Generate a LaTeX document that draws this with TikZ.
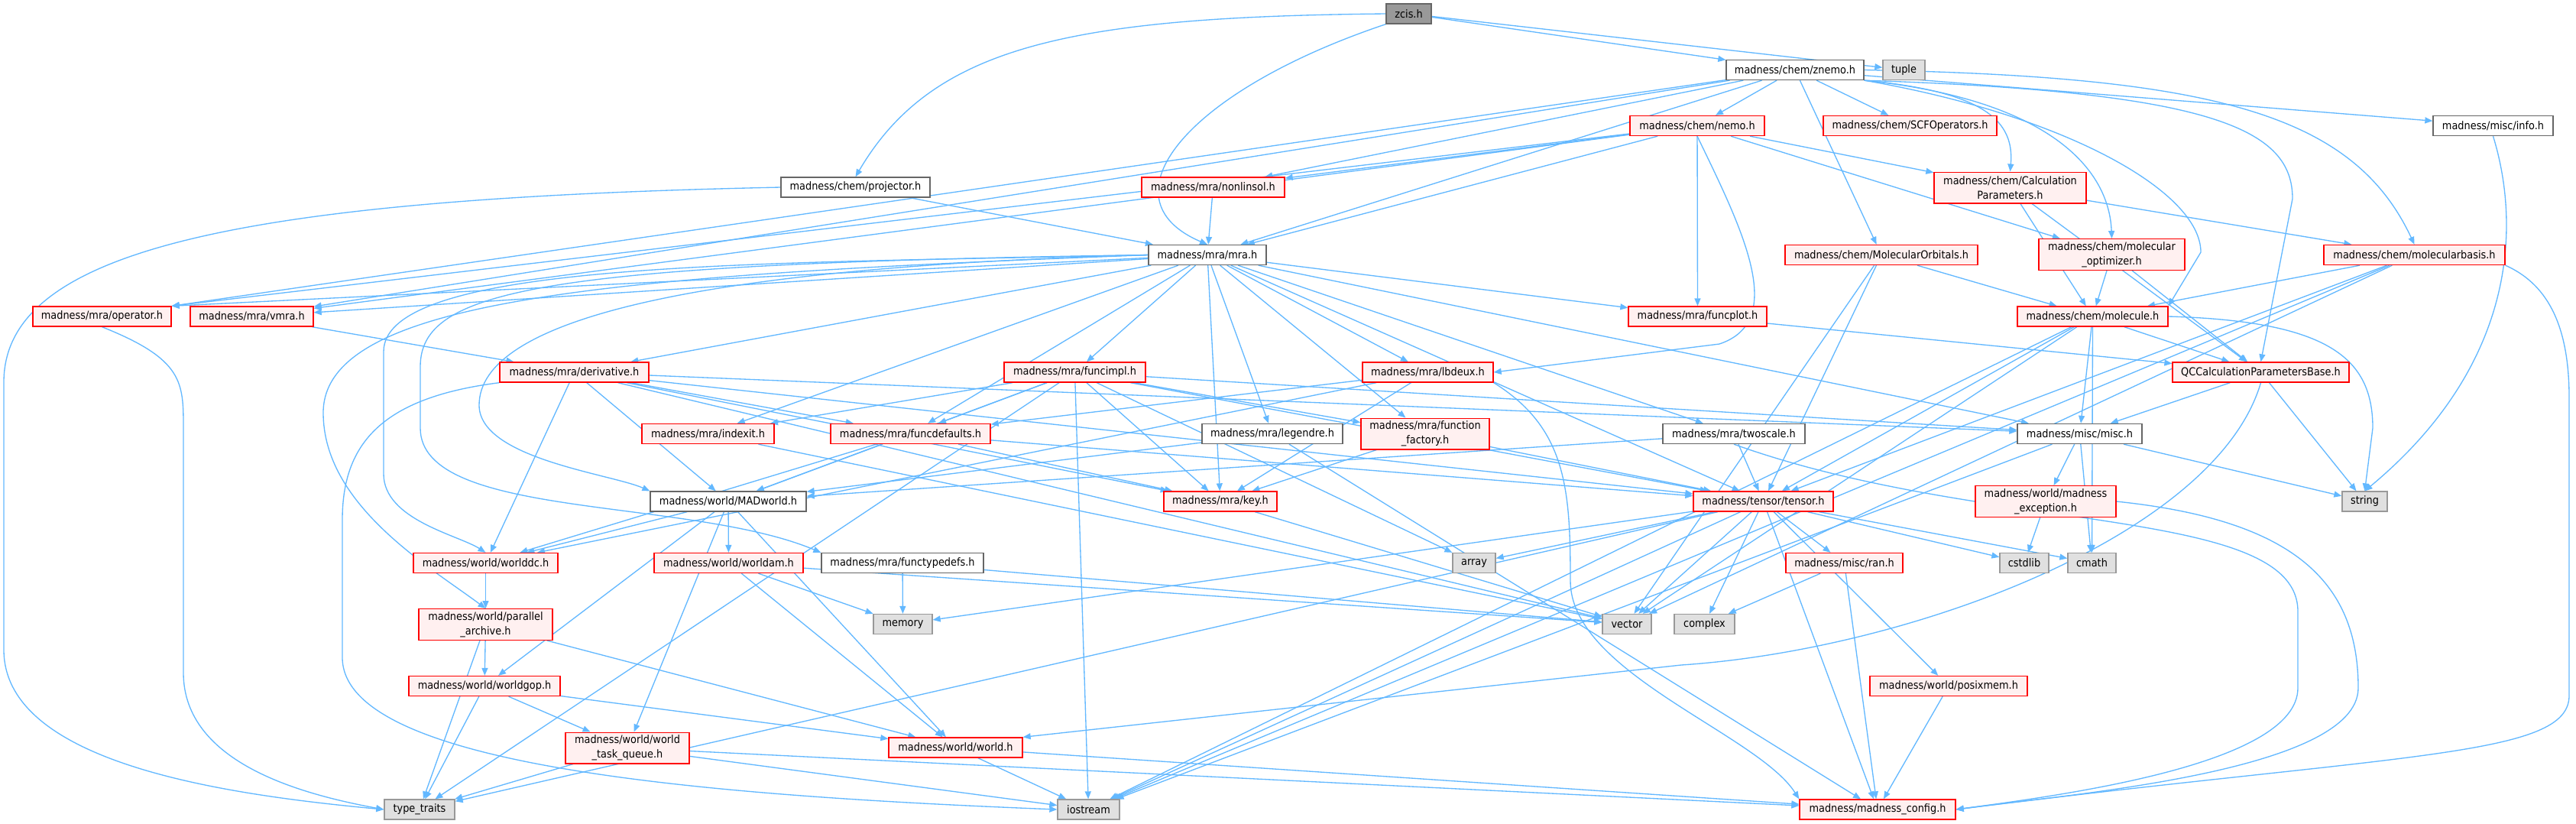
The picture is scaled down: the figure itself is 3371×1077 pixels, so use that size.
\documentclass[tikz,border=0pt]{standalone}
\usepackage{fontspec}
\newfontfamily\dxfont{DejaVu Sans}[FakeStretch=0.9]
\usetikzlibrary{arrows.meta,backgrounds}
\definecolor{edgeblue}{HTML}{63B8FF}
\definecolor{boxred}{HTML}{FF0000}
\definecolor{pinkfill}{HTML}{FFF0F0}
\definecolor{darkline}{HTML}{666666}
\definecolor{sysfill}{HTML}{E0E0E0}
\definecolor{sysline}{HTML}{999999}
\definecolor{rootfill}{HTML}{999999}

\begin{document}
\begin{tikzpicture}[x=0.3pt,y=-0.3pt,
      hdr/.style={line width=0.4pt,inner sep=0pt,align=center,
        font=\dxfont\fontsize{4.3}{5.6}\selectfont,minimum height=7.8pt},
      sz/.style={minimum width=#1*0.3pt},
      plain/.style={hdr,draw=darkline,fill=white},
      trunc/.style={hdr,draw=boxred,fill=pinkfill},
      sys/.style={hdr,draw=sysline,fill=sysfill},
      root/.style={hdr,draw=darkline,fill=rootfill},
      tall/.style={minimum height=12.2pt},
      dep/.style={draw=edgeblue,line width=0.4pt,-{Triangle[length=3pt,width=2.4pt]}}]
    % page is 3371 x 1077 (y grows downwards)
    \useasboundingbox (0,0) rectangle (3371,1077);

    % rows 0-4
    \node[root,sz=59]    (zcis)       at (1843.5,18)  {zcis.h};
    \node[plain,sz=180]  (znemo)      at (2349,91.5)  {madness/chem/znemo.h};
    \node[sys,sz=55]     (tuple)      at (2491.5,91.5) {tuple};
    \node[trunc,sz=176]  (nemo)       at (2221,164.5) {madness/chem/nemo.h};
    \node[trunc,sz=227]  (scfops)     at (2499.5,164.5) {madness/chem/SCFOperators.h};
    \node[plain,sz=157]  (info)       at (3262.5,164.5) {madness/misc/info.h};
    \node[plain,sz=195]  (projector)  at (1119.5,245) {madness/chem/projector.h};
    \node[trunc,sz=187]  (nonlinsol)  at (1587.5,245) {madness/mra/nonlinsol.h};
    \node[trunc,sz=199,tall] (calcparams) at (2630.5,245.5) {madness/chem/Calculation\\Parameters.h};
    \node[plain,sz=154]  (mra)        at (1580,333.5) {madness/mra/mra.h};
    \node[trunc,sz=252]  (molorbs)    at (2462,333.5) {madness/chem/MolecularOrbitals.h};
    \node[trunc,sz=191,tall] (molopt) at (2763.5,333) {madness/chem/molecular\\\_optimizer.h};
    \node[trunc,sz=237]  (molbasis)   at (3159.5,333.5) {madness/chem/molecularbasis.h};

    % rows 5-8
    \node[trunc,sz=181]  (operator)   at (133.5,414)  {madness/mra/operator.h};
    \node[trunc,sz=161]  (vmra)       at (329.5,414)  {madness/mra/vmra.h};
    \node[trunc,sz=181]  (funcplot)   at (2221.5,414) {madness/mra/funcplot.h};
    \node[trunc,sz=197]  (molecule)   at (2738.5,414) {madness/chem/molecule.h};
    \node[trunc,sz=195]  (derivative) at (751.5,487)  {madness/mra/derivative.h};
    \node[trunc,sz=185]  (funcimpl)   at (1406.5,487) {madness/mra/funcimpl.h};
    \node[trunc,sz=171]  (lbdeux)     at (1868.5,487) {madness/mra/lbdeux.h};
    \node[trunc,sz=231]  (qcbase)     at (2958.5,487) {QCCalculationParametersBase.h};
    \node[trunc,sz=173]  (indexit)    at (926.5,567.5) {madness/mra/indexit.h};
    \node[trunc,sz=209]  (funcdefaults) at (1191.5,567.5) {madness/mra/funcdefaults.h};
    \node[plain,sz=184]  (legendre)   at (1665,567.5) {madness/mra/legendre.h};
    \node[trunc,sz=168,tall] (funcfactory) at (1865,567.5) {madness/mra/function\\\_factory.h};
    \node[plain,sz=186]  (twoscale)   at (2269,567.5) {madness/mra/twoscale.h};
    \node[plain,sz=163]  (misc)       at (2721.5,567.5) {madness/misc/misc.h};
    \node[plain,sz=204]  (madworld)   at (953,656)    {madness/world/MADworld.h};
    \node[trunc,sz=148]  (key)        at (1597,656)   {madness/mra/key.h};
    \node[trunc,sz=183]  (tensor)     at (2307.5,656) {madness/tensor/tensor.h};
    \node[trunc,sz=184,tall] (mexception) at (2677,656) {madness/world/madness\\\_exception.h};
    \node[sys,sz=59]     (string)     at (3094.5,656) {string};

    % rows 9-13
    \node[trunc,sz=189]  (worlddc)    at (635.5,736.5) {madness/world/worlddc.h};
    \node[trunc,sz=195]  (worldam)    at (953.5,736.5) {madness/world/worldam.h};
    \node[plain,sz=212]  (functypedefs) at (1181,736.5) {madness/mra/functypedefs.h};
    \node[sys,sz=56]     (array)      at (1929,736.5) {array};
    \node[trunc,sz=153]  (ran)        at (2413.5,736.5) {madness/misc/ran.h};
    \node[sys,sz=64]     (cstdlib)    at (2649,736.5) {cstdlib};
    \node[sys,sz=63]     (cmath)      at (2737.5,736.5) {cmath};
    \node[trunc,sz=175,tall] (parchive) at (635.5,817) {madness/world/parallel\\\_archive.h};
    \node[sys,sz=77]     (memory)     at (1181.5,816.5) {memory};
    \node[sys,sz=64]     (vector)     at (2129,816.5) {vector};
    \node[sys,sz=79]     (complex)    at (2230.5,816.5) {complex};
    \node[trunc,sz=198]  (worldgop)   at (634,897.5)  {madness/world/worldgop.h};
    \node[trunc,sz=206]  (posixmem)   at (2550,897.5) {madness/world/posixmem.h};
    \node[trunc,sz=175]  (world)      at (1250.5,978) {madness/world/world.h};
    \node[trunc,sz=162,tall] (taskqueue) at (821,978.5) {madness/world/world\\\_task\_queue.h};
    \node[sys,sz=92]     (typetraits) at (549,1059)   {type\_traits};
    \node[sys,sz=81]     (iostream)   at (1424.5,1059) {iostream};
    \node[trunc,sz=204]  (mconfig)    at (2457,1059)  {madness/madness\_config.h};

    \begin{pgfonlayer}{background}
    % straight include edges
    \foreach \a/\b in {zcis/znemo, zcis/tuple,
        znemo/nemo, znemo/scfops, znemo/molorbs, znemo/info, znemo/mra,
        znemo/nonlinsol, znemo/vmra,
        nemo/nonlinsol, nemo/mra, nemo/calcparams, nemo/molopt, nemo/funcplot, nemo/vmra,
        projector/mra, nonlinsol/mra,
        calcparams/molecule, calcparams/qcbase, calcparams/molbasis,
        mra/vmra, mra/derivative, mra/funcimpl, mra/funcdefaults, mra/key,
        mra/legendre, mra/funcfactory, mra/lbdeux, mra/twoscale, mra/misc,
        mra/tensor, mra/funcplot, mra/indexit,
        molorbs/molecule, molorbs/tensor, molorbs/vector,
        molopt/molecule, molopt/qcbase,
        molbasis/molecule, molbasis/tensor, molbasis/vector, molbasis/iostream,
        vmra/derivative, funcplot/qcbase,
        molecule/qcbase, molecule/misc, molecule/tensor,
        molecule/iostream, molecule/vector, molecule/cmath,
        derivative/worlddc, derivative/madworld, derivative/funcdefaults,
        derivative/misc, derivative/vector, derivative/tensor, derivative/key,
        funcimpl/funcdefaults, funcimpl/indexit, funcimpl/madworld, funcimpl/key,
        funcimpl/funcfactory, funcimpl/array, funcimpl/iostream, funcimpl/typetraits,
        funcimpl/tensor, funcimpl/misc,
        lbdeux/funcdefaults, lbdeux/key, lbdeux/worlddc,
        qcbase/misc, qcbase/string, indexit/vector,
        funcdefaults/madworld, funcdefaults/worlddc, funcdefaults/key, funcdefaults/tensor,
        legendre/madworld, legendre/mconfig, funcfactory/key, funcfactory/tensor,
        twoscale/tensor, twoscale/madworld,
        misc/mexception, misc/string, misc/iostream, misc/cmath,
        madworld/worlddc, madworld/worldam, madworld/worldgop, madworld/taskqueue, madworld/world,
        key/vector,
        tensor/array, tensor/ran, tensor/cstdlib, tensor/cmath, tensor/posixmem,
        tensor/mconfig, tensor/complex, tensor/vector, tensor/iostream, tensor/memory,
        tensor/typetraits,
        mexception/cstdlib, worlddc/parchive,
        worldam/memory, worldam/vector, worldam/world,
        functypedefs/memory, functypedefs/vector,
        ran/complex, ran/mconfig,
        parchive/worldgop, parchive/typetraits, parchive/world,
        worldgop/typetraits, worldgop/taskqueue, worldgop/world,
        posixmem/mconfig, world/iostream, world/mconfig,
        taskqueue/typetraits, taskqueue/iostream, taskqueue/mconfig}
      \draw[dep] (\a) -- (\b);

    % edges that reach the upper right corner of their target
    \draw[dep] (znemo) -- (operator.north east);
    \draw[dep] (nemo) -- (operator.north east);
    \draw[dep] (mra) -- (operator.north east);

    % long curved edges
    \draw[dep] (zcis.west) .. controls (1400,22) and (1220,60) .. (projector.north);
    \draw[dep] (zcis.south west) .. controls (1550,120) and (1440,260) .. (mra.north);
    \draw[dep] (znemo.south east) .. controls (2600,120) and (2636,160) .. (calcparams.north);
    \draw[dep] (znemo.south east) .. controls (2680,130) and (2760,220) .. (molopt.north);
    \draw[dep] (znemo.east) .. controls (2900,100) and (3080,150) .. (molbasis.north);
    \draw[dep] (projector.west) .. controls (300,260) and (5,330) .. (5,500)
      -- (5,850) .. controls (5,1000) and (300,1040) .. (typetraits.west);
    \draw[dep] (operator.south) .. controls (240,470) and (240,500) .. (240,560)
      -- (240,880) .. controls (240,1000) and (400,1040) .. (typetraits.west);
    \draw[dep] (derivative.south west) .. controls (500,520) and (448,580) .. (448,680)
      -- (448,860) .. controls (448,1000) and (900,1040) .. (iostream.west);
    \draw[dep] (mra.west) .. controls (1000,345) and (502,340) .. (502,460)
      -- (502,620) .. controls (502,680) and (600,700) .. (worlddc.north);
    \draw[dep] (mra.west) .. controls (800,360) and (423,390) .. (423,540)
      .. controls (423,660) and (560,740) .. (parchive.north);
    \draw[dep] (mra.west) .. controls (900,350) and (627,420) .. (627,530)
      .. controls (627,600) and (800,620) .. (madworld.north west);
    \draw[dep] (mra.west) .. controls (700,345) and (550,380) .. (550,480)
      -- (550,560) .. controls (550,680) and (900,650) .. (functypedefs.north west);
    \draw[dep] (nemo.south) .. controls (2280,300) and (2340,420) .. (2250,450) -- (lbdeux.east);
    \draw[dep] (znemo.south east) .. controls (2900,120) and (3000,170) .. (3000,260) -- (qcbase.north);
    \draw[dep] (znemo.south east) .. controls (2700,150) and (2880,250) .. (2880,330) -- (molecule.north east);
    \draw[dep] (molecule.east) .. controls (3050,420) and (3105,470) .. (3105,560) -- (string.north);
    \draw[dep] (info.south) .. controls (3300,300) and (3290,480) .. (string.north);
    \draw[dep] (qcbase.south) .. controls (2900,700) and (2500,850) .. (2200,870) -- (world.north east);
    \draw[dep] (lbdeux.south east) .. controls (2050,560) and (2055,640) .. (2055,760)
      .. controls (2055,880) and (2300,960) .. (mconfig.north west);
    \draw[dep] (twoscale.south) .. controls (2600,700) and (3007,660) .. (3007,800)
      -- (3007,900) .. controls (3007,1000) and (2700,1040) .. (mconfig.east);
    \draw[dep] (mexception.east) .. controls (3000,680) and (3086,760) .. (3086,900)
      .. controls (3086,1010) and (2700,1040) .. (mconfig.east);
    \draw[dep] (molbasis.south east) .. controls (3330,370) and (3362,420) .. (3362,520)
      -- (3362,910) .. controls (3362,990) and (3150,985) .. (mconfig.east);
    \end{pgfonlayer}
  \end{tikzpicture}
\end{document}
